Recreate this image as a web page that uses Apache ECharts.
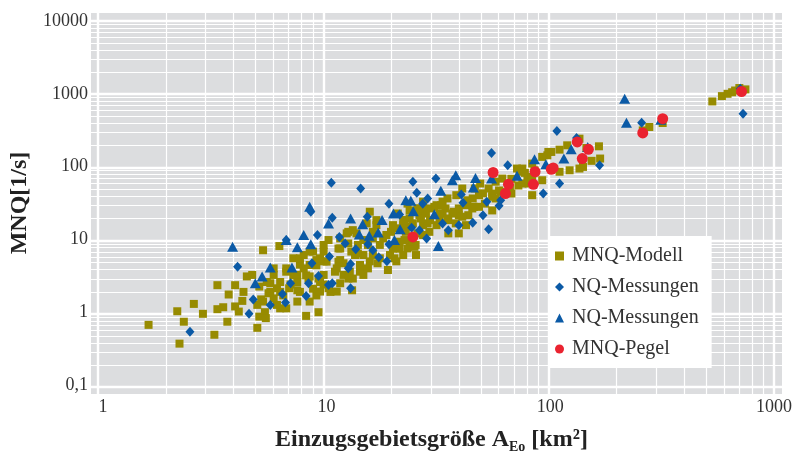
<!DOCTYPE html>
<html lang="de" style="height: 100%">
<head>
  <meta charset="utf-8">
</head>
<body style="height: 100%; margin: 0; background: #fff">
  <div id="container" style="width: 796px; height: 459px"></div>

  <script type="text/javascript" src="https://cdn.jsdelivr.net/npm/echarts@6/dist/echarts.min.js"></script>
  <script type="text/javascript">
    // [Einzugsgebietsgröße km², MNQ l/s]
    var modellData = [
      [1.6, 0.67], [2.2, 0.37], [2.15, 1.03], [2.3, 0.74], [2.55, 1.3], [2.8, 0.95], [3.15, 0.49], [3.25, 2.35],
      [3.25, 1.1], [3.45, 1.17], [3.6, 0.74], [3.65, 1.75], [3.9, 2.35], [4.2, 1.43], [4.05, 1.02], [4.9, 0.61],
      [5.2, 7.1], [6.15, 8.1], [4.4, 3.1], [4.65, 3.25], [4.25, 1.9], [5.0, 0.87], [5.8, 4.0], [6.6, 4.0],
      [7.4, 2.6], [7.9, 6.1], [8.7, 6.8], [9.7, 8.4], [10.2, 9.8], [8.1, 3.2], [9.0, 4.4], [9.7, 5.0],
      [8.4, 1.4], [9.2, 1.0], [8.1, 0.89], [6.9, 2.4], [6.4, 1.7], [5.6, 1.9], [5.2, 1.4], [4.9, 1.26],
      [6.0, 1.26], [6.6, 1.13], [7.4, 1.4], [7.6, 1.9], [8.7, 2.1], [9.7, 2.4], [10.4, 1.9], [9.0, 1.7],
      [5.4, 2.6], [6.2, 2.6], [7.1, 3.2], [7.6, 4.5], [5.0, 2.25], [5.5, 1.82], [6.2, 1.9], [6.2, 1.13],
      [5.1, 1.5], [5.3, 1.0], [3.9, 1.2], [5.35, 0.83], [5.8, 1.55], [6.8, 2.13], [7.1, 5.5], [7.9, 4.0],
      [15.6, 24], [16.7, 15.7], [19.4, 12.7], [22, 18.4], [23.5, 19.4], [25.5, 26.6], [26, 21.5], [21.2, 9.3],
      [24.7, 7.9], [25.1, 6.1], [18.8, 3.8], [20.1, 5.5], [21.2, 7.5], [17.3, 8.4], [14.6, 9.8], [13.6, 12.1],
      [12.5, 12.7], [11.5, 10.3], [12.9, 6.8], [14.6, 6.1], [15.6, 5.0], [14.1, 3.6], [14.6, 3.25], [11.5, 5.2],
      [11.1, 4.0], [10, 4.95], [9.0, 5.2], [8.4, 6.8], [7.6, 5.5], [9.7, 3.25], [9.35, 2.6], [8.4, 3.1],
      [7.4, 3.25], [6.6, 3.6], [5.8, 3.25], [6.0, 2.13], [5.6, 2.5], [7.4, 2.0], [9.35, 1.92], [11.5, 2.5],
      [11.9, 3.25], [13.1, 2.9], [13.8, 6.4], [12.5, 8.8], [11.3, 7.5], [11.9, 4.7], [15.3, 4.0], [16.9, 4.7],
      [17.9, 10.3], [16.1, 10.3], [19.8, 7.5], [23, 7.5], [20.8, 14.2], [20.8, 22.7], [23, 31], [24.3, 16.6],
      [97, 143], [83, 110], [85, 89], [73, 85], [67, 68], [57, 62], [53, 50], [50, 43],
      [46, 50], [60, 45], [55, 38.5], [83, 40.5], [45, 36.5], [42, 29.5], [38, 40.5], [37, 24],
      [34, 26.6], [33, 33], [31, 29.5], [29, 26.6], [27.8, 22.7], [26, 26.6], [27, 33], [32, 19.4],
      [35, 18.4], [39, 21.5], [43, 21.5], [42, 15.7], [39, 12.1], [31, 15.7], [28.8, 12.7], [27, 11.5],
      [25, 8.4], [23.5, 9.3], [22.6, 12.7], [20.5, 7.5], [22, 15.7], [27, 15.7], [18.5, 11.5], [19.8, 15.7],
      [16.1, 6.1], [15.3, 8.4], [20.5, 5.0], [22, 6.1], [19.2, 6.1], [17.3, 5.5], [16.1, 12.7], [15.1, 16.6],
      [16.7, 18.4], [13.8, 8.4], [13.4, 6.1], [14.1, 4.45], [12.7, 3.6], [12.5, 2.9], [11.5, 7.5], [11.3, 4.95],
      [10.9, 3.6], [9.7, 6.8], [9.35, 5.5], [8.4, 4.45], [8.3, 2.9], [9.2, 2.9], [10.2, 2.13], [11.1, 1.92],
      [13, 2.0], [12.3, 12.1], [13.1, 13.4], [28.3, 16.6], [33, 22.7], [34.7, 36.5], [40.4, 50], [44.8, 26.6],
      [98, 159], [92, 136], [79, 72], [92, 65], [72, 55], [66, 50], [59, 47], [55, 42.7],
      [57, 36.5], [48, 40.5], [45.6, 28], [48, 28], [42.6, 34.5], [39, 26.6], [36.5, 22.7], [40.4, 20.5],
      [37.8, 16.6], [34.7, 19.4], [32, 22.7], [30.3, 28], [32.5, 29.5], [27, 28], [25, 24], [23.5, 25],
      [26.4, 19.4], [29, 18.4], [35, 12.1], [25.5, 12.1], [23, 15], [22.3, 18.4], [22.3, 9.8],
      [48.6, 58.5], [61, 68.5], [71, 94], [51, 31], [55, 25], [75, 58.5], [83, 68.5], [67, 42.7],
      [277, 350], [259, 314], [318, 397], [165, 190], [167, 129], [153, 120], [135, 94], [122, 89],
      [110, 85], [101, 159], [110, 171], [119, 196], [77, 82], [80, 58.5], [135, 242], [145, 180],
      [140, 99], [75, 94],
      [530, 785], [585, 930], [620, 1000], [650, 1050], [670, 1110], [700, 1200], [745, 1150]
    ];

    var nqRauteData = [
      [2.45, 0.54], [4.0, 4.2], [4.5, 0.95], [4.7, 1.5], [5.6, 1.26], [6.35, 1.78], [6.55, 1.36], [6.9, 2.5],
      [8.1, 1.67], [8.3, 2.5], [8.6, 4.7], [9.2, 3.15], [9.1, 11.5], [8.5, 24], [6.6, 9.8], [10.5, 60],
      [10.3, 5.8], [10.2, 2.37], [14.2, 50], [24.3, 62], [25.3, 43.6], [19, 31], [10.6, 19.8], [15.2, 20.5],
      [11.4, 10.8], [12.1, 8.8], [13.5, 7.3], [15.3, 8.55], [16.1, 7.1], [19, 8.55], [24, 14.5], [26, 13.4],
      [12.8, 4.6], [12.5, 4.0], [17.1, 5.7], [18.6, 5.0], [10.6, 2.5], [12.8, 2.13], [21.2, 22],
      [107, 308], [54.6, 154], [64.5, 104], [30.8, 68.5], [40, 41.3], [40.7, 32], [28.3, 36.5], [26.9, 31],
      [52, 33], [60, 34.5], [59, 29], [85, 85], [93, 42.7], [110, 58.5], [50, 21.5], [33, 16.6],
      [39, 15.7], [45, 16.9], [35, 13.4], [53, 13.8], [28, 10.3],
      [256, 400], [166, 104], [138, 129], [131, 247], [707, 1170], [727, 530]
    ];

    var nqDreieckData = [
      [3.8, 7.9], [5.6, 4.1], [5.15, 3.1], [4.8, 2.5], [7.0, 4.1], [7.4, 7.8], [7.9, 11.5], [8.5, 8.6],
      [8.4, 28], [10.2, 16.6], [12.8, 19.4], [14.5, 16.2], [17.7, 18.4], [19.9, 22.7], [22.6, 34.5], [23.8, 33.9],
      [24.4, 24.4], [21.3, 13.8], [14, 11.7], [15.5, 11.2], [17, 12.4], [20.1, 9.8], [6.6, 9.8],
      [37.8, 76], [36.5, 65], [46.3, 70], [45.3, 51.5], [32.4, 46.5], [30.3, 22.2], [54.6, 68.5], [71, 74.6],
      [85, 126], [31.6, 8.1], [95.5, 108], [124, 173], [115, 129], [147, 186],
      [215, 855], [219, 400], [312, 440]
    ];

    var pegelData = [
      [24.3, 10.8], [55.5, 83], [65, 57], [63, 42.7], [84, 57], [85.5, 85], [101, 92], [103, 96],
      [132, 218], [148, 173], [139, 129], [259, 290], [318, 455], [716, 1075]
    ];

    // Gitterlinien: Dekaden und Zwischenwerte
    var decadesX = [1, 10, 100, 1000];
    var decadesY = [0.1, 1, 10, 100, 1000, 10000];
    var minorSteps = [2, 3, 4, 5, 6, 7, 8, 9];

    var font = 'Liberation Serif';
    var bgColor = '#dcdddf';

    // plot area (axis range) and the grey box that is a little bigger
    var plotLeft = 98, plotTop = 21, plotW = 676, plotH = 366;
    var padL = 7, padR = 8, padT = 8, padB = 7;
    var xPerDec = plotW / 3, yPerDec = plotH / 5;

    var gridLines = [];
    decadesX.forEach(function (d, i) {
      gridLines.push({ xAxis: d, lineStyle: { width: 2.4 } });
      if (i < decadesX.length - 1) {
        minorSteps.forEach(function (m) { gridLines.push({ xAxis: d * m, lineStyle: { width: 1.2 } }); });
      }
    });
    decadesY.forEach(function (d, i) {
      gridLines.push({ yAxis: d, lineStyle: { width: 2.4 } });
      if (i < decadesY.length - 1) {
        minorSteps.forEach(function (m) { gridLines.push({ yAxis: d * m, lineStyle: { width: 1.2 } }); });
      }
    });

    function tickText(v) {
      return String(+v.toPrecision(3)).replace('.', ',');
    }

    var dom = document.getElementById('container');
    var myChart = echarts.init(dom, null, { renderer: 'canvas' });

    var option = {
      animation: false,
      backgroundColor: '#fff',
      grid: [
        { left: plotLeft, top: plotTop, width: plotW, height: plotH, show: false },
        {
          left: plotLeft - padL, top: plotTop - padT,
          width: plotW + padL + padR, height: plotH + padT + padB,
          show: true, backgroundColor: bgColor, borderWidth: 0, z: 0
        }
      ],
      xAxis: [
        {
          type: 'log', logBase: 10, min: 1, max: 1000, gridIndex: 0,
          axisLine: { show: false }, axisTick: { show: false }, splitLine: { show: false },
          axisLabel: { fontFamily: font, fontSize: 18, color: '#333', margin: 13, formatter: tickText },
          name: '{b|Einzugsgebietsgröße A}{s|Eo}{b| [km²]}',
          nameLocation: 'middle', nameGap: 41,
          nameTextStyle: {
            padding: [0, 14, 0, 0],
            rich: {
              b: { fontFamily: font, fontWeight: 'bold', fontSize: 24, color: '#222', lineHeight: 28 },
              s: { fontFamily: font, fontWeight: 'bold', fontSize: 14, color: '#222', lineHeight: 13, verticalAlign: 'bottom' }
            }
          }
        },
        {
          type: 'log', logBase: 10, gridIndex: 1, show: false,
          min: Math.pow(10, -padL / xPerDec), max: Math.pow(10, 3 + padR / xPerDec),
          splitLine: { show: false }
        }
      ],
      yAxis: [
        {
          type: 'log', logBase: 10, min: 0.1, max: 10000, gridIndex: 0,
          axisLine: { show: false }, axisTick: { show: false }, splitLine: { show: false },
          axisLabel: { fontFamily: font, fontSize: 18, color: '#333', margin: 15, formatter: tickText },
          name: 'MNQ[1/s]', nameLocation: 'middle', nameGap: 58,
          nameTextStyle: { fontFamily: font, fontWeight: 'bold', fontSize: 24, color: '#222' }
        },
        {
          type: 'log', logBase: 10, gridIndex: 1, show: false,
          min: Math.pow(10, -1 - padB / yPerDec), max: Math.pow(10, 4 + padT / yPerDec),
          splitLine: { show: false }
        }
      ],
      legend: {
        orient: 'vertical', left: 548, top: 236, z: 20,
        backgroundColor: '#fff', padding: [9, 8, 8, 7],
        itemGap: 9, itemWidth: 9, itemHeight: 9,
        textStyle: { fontFamily: font, fontSize: 20, color: '#333', lineHeight: 22, padding: [0, 0, 0, 3] },
        data: [
          { name: 'MNQ-Modell', icon: 'rect' },
          { name: 'NQ-Messungen', icon: 'diamond' },
          { name: 'NQ-Messungen ', icon: 'triangle' },
          { name: 'MNQ-Pegel', icon: 'circle' }
        ]
      },
      series: [
        {
          name: 'gitter', type: 'scatter', xAxisIndex: 1, yAxisIndex: 1, z: 1,
          symbolSize: 0, data: [[10, 10]], silent: true,
          markLine: {
            z: 1, silent: true, symbol: 'none', label: { show: false },
            lineStyle: { color: '#fff', type: 'solid', width: 1.2 },
            emphasis: { disabled: true },
            data: gridLines
          }
        },
        {
          name: 'MNQ-Modell', type: 'scatter', z: 10,
          symbol: 'rect', symbolSize: 8,
          itemStyle: { color: '#978b00', opacity: 1 },
          data: modellData
        },
        {
          name: 'NQ-Messungen', type: 'scatter', z: 11,
          symbol: 'diamond', symbolSize: [9, 10],
          itemStyle: { color: '#0b5aa6', opacity: 1 },
          data: nqRauteData
        },
        {
          name: 'NQ-Messungen ', type: 'scatter', z: 12,
          symbol: 'triangle', symbolSize: [11, 10],
          itemStyle: { color: '#0b5aa6', opacity: 1 },
          data: nqDreieckData
        },
        {
          name: 'MNQ-Pegel', type: 'scatter', z: 13,
          symbol: 'circle', symbolSize: 11,
          itemStyle: { color: '#ea2330', opacity: 1 },
          data: pegelData
        }
      ]
    };

    myChart.setOption(option);
    window.addEventListener('resize', myChart.resize);
  </script>
</body>
</html>
